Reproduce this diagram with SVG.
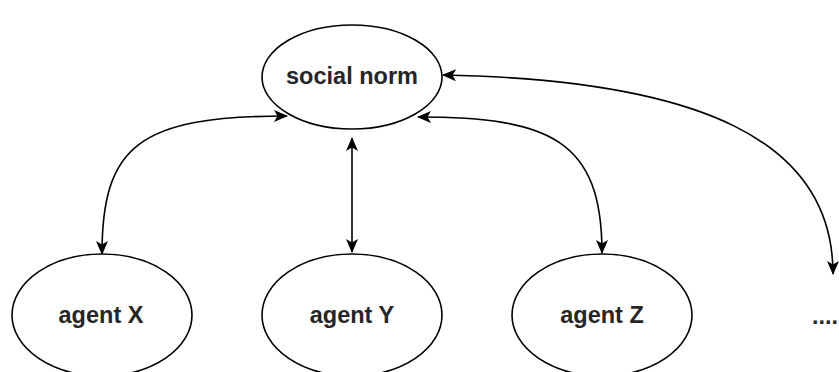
<svg xmlns="http://www.w3.org/2000/svg" width="839" height="372" viewBox="0 0 839 372">
<style>
.node ellipse{fill:#fff;stroke:#000;stroke-width:1.6}
.lbl{font-family:"Liberation Sans",Arial,sans-serif;font-size:23.5px;font-weight:bold;fill:#262626;text-anchor:middle}
.edge{fill:none;stroke:#000;stroke-width:1.6;marker-start:url(#arr);marker-end:url(#arr)}
</style>
<defs>
<marker id="arr" viewBox="0 0 14 12" refX="13" refY="6" markerWidth="14" markerHeight="12" markerUnits="userSpaceOnUse" orient="auto-start-reverse">
<path d="M0,0 L14,6 L0,12 L3.5,6 Z" fill="#000"/>
</marker>
</defs>
<rect width="839" height="372" fill="#fff"/>
<g id="connectors">
<path class="edge" d="M287 116 C140 116, 102 145, 102 254"/>
<path class="edge" d="M352 138 L352 252"/>
<path class="edge" d="M418 117 C550 117, 602 140, 602 253"/>
<path class="edge" d="M443 75 C700 80, 833 140, 833 274"/>
</g>
<g id="social-norm" class="node">
<ellipse cx="352" cy="77" rx="90" ry="52"/>
<text class="lbl" x="352" y="84">social norm</text>
</g>
<g id="agent-x" class="node">
<ellipse cx="102" cy="315" rx="90" ry="61"/>
<text class="lbl" x="101" y="323">agent X</text>
</g>
<g id="agent-y" class="node">
<ellipse cx="352" cy="315" rx="90" ry="61"/>
<text class="lbl" x="352" y="323">agent Y</text>
</g>
<g id="agent-z" class="node">
<ellipse cx="602" cy="315" rx="90" ry="61"/>
<text class="lbl" x="602" y="323">agent Z</text>
</g>
<g id="more">
<text class="lbl" x="812" y="324" style="text-anchor:start">....</text>
</g>
</svg>
